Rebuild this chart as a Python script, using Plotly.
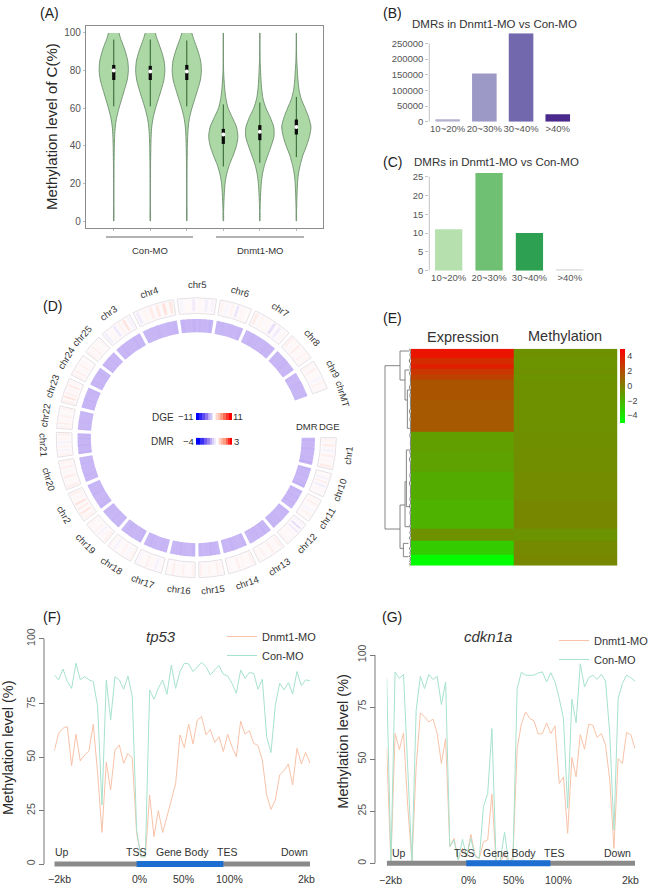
import math
import plotly.graph_objects as go

W, H = 650, 885
FONT = "Liberation Sans"
TXT = "#333333"
TICK = "#555555"

# ---------- Panel A: violin densities ----------
violin_pos = [1, 2, 3, 4, 5, 6]
con_levels = [100, 97, 94, 90, 85, 80, 75, 70, 65, 60, 55, 50, 45, 40, 30, 20, 10, 0]
dn_levels = [100, 90, 85, 80, 75, 70, 65, 60, 55, 50, 45, 40, 35, 30, 25, 20, 15, 10, 5, 0]
density_con1 = [.36, .47, .62, .80, .96, 1, .92, .74, .55, .36, .20, .10, .06, .04, .02, .012, .01, .006]
density_con2 = [.34, .46, .60, .78, .95, 1, .93, .76, .56, .36, .20, .10, .06, .04, .02, .012, .01, .006]
density_con3 = [.34, .46, .60, .78, .95, 1, .93, .75, .55, .35, .19, .10, .06, .04, .02, .012, .01, .006]
density_dn1 = [.005, .008, .01, .02, .05, .10, .18, .33, .62, .90, 1, .90, .68, .42, .23, .12, .07, .04, .02, .01]
density_dn2 = [.005, .01, .02, .05, .08, .13, .22, .42, .72, .95, .97, .78, .55, .33, .18, .10, .06, .03, .015, .008]
density_dn3 = [.005, .015, .03, .07, .11, .18, .33, .60, .85, 1, .90, .70, .45, .27, .14, .08, .05, .03, .015, .008]
whisker_lo = [61, 61, 61, 29, 31, 34]
whisker_hi = [96.5, 96.5, 96, 62, 63, 66]
iqr_lo = [75, 75, 75, 41, 43, 46]
iqr_hi = [83, 82.5, 83, 49, 51, 54]
medians = [80, 79.5, 79.5, 46, 47.5, 50]
violin_ticks = [0, 20, 40, 60, 80, 100]

# ---------- Panels B and C ----------
bin_labels = ["10~20%", "20~30%", "30~40%", ">40%"]
dmr_counts_b = [8000, 154000, 282000, 24000]
dmr_counts_c = [11, 26, 10, 0.2]
colors_b = ["#b5b2cf", "#9c99c6", "#7168ae", "#4a2a8c"]
colors_c = ["#b6e0ae", "#6fc073", "#2ea052", "#e2e2e2"]

# ---------- Panel D: circos ----------
chrom_names = ["chr1", "chr10", "chr11", "chr12", "chr13", "chr14", "chr15", "chr16", "chr17",
               "chr18", "chr19", "chr2", "chr20", "chr21", "chr22", "chr23", "chr24", "chr25",
               "chr3", "chr4", "chr5", "chr6", "chr7", "chr8", "chr9"]
chrom_sizes = [59.6, 45.4, 45.5, 49.8, 54.1, 53.5, 48.0, 55.4, 53.3, 51.0, 48.6, 59.0, 55.2,
               45.9, 42.0, 46.2, 42.2, 37.5, 62.6, 78.1, 72.5, 60.3, 74.3, 54.3, 56.5]
dge_bins = [
    [.6, 1.2, -.5, 1.0, .4, 1.3], [.3, -.6, 1.0, -.8, .5, .2], [.5, 1.1, .2, -.4, .8, .3],
    [-.5, -1.6, -1.0, .4, .3, .6], [.9, .4, 1.1, .3, .7, .5], [.8, .3, .6, 1.0, .2, .4],
    [.5, 1.0, .3, .7, .4, .9], [.7, .2, .8, .4, 1.0, .3], [.4, -.7, .5, .9, .3, -.4],
    [.6, -.3, .8, .2, -.6, .4], [.9, .4, -.5, .7, .3, .5], [.8, 1.6, 1.2, 1.8, .6, 1.0],
    [1.0, .5, 1.3, .4, .9, .6], [.7, -.5, .8, -.6, .6, .9], [.8, 1.2, .5, .9, .3, .7],
    [1.0, 2.0, 1.2, .6, 1.4, .5], [.8, 1.2, .4, 1.0, .5, .3], [.9, .4, 1.1, .5, .3, .7],
    [-.7, .4, -1.0, .8, 1.8, -.5], [-.8, .6, 1.2, 1.4, 2.0, 1.6], [-.4, .3, -.9, .4, -.7, -.5],
    [.7, -.4, .8, -1.2, .6, .3], [1.2, .6, .3, -1.4, -.8, .4], [.9, .5, 1.2, .4, .8, .6],
    [.6, .9, .3, -.4, .7, .5],
]
dmr_bins = [
    [-1.15, -1.05, -1.2, -1.05, -1.1, -1.3], [-1.2, -1.05, -1.1, -1.0, -1.1, -1.25], [-1.1, -1.0, -1.15, -1.05, -1.1, -1.0],
    [-1.1, -1.05, -1.0, -1.1, -1.05, -1.1], [-1.05, -1.15, -1.0, -1.1, -1.05, -1.0], [-1.1, -1.0, -1.05, -1.15, -1.0, -1.05],
    [-1.0, -1.1, -1.25, -1.05, -1.0, -1.1], [-1.1, -1.0, -1.05, -1.2, -1.05, -1.0], [-1.05, -1.1, -1.0, -1.05, -1.15, -1.0],
    [-1.1, -1.05, -1.0, -1.05, -1.1, -1.0], [-1.05, -1.0, -1.1, -1.0, -1.05, -1.1], [-1.1, -1.05, -1.0, -1.1, -1.05, -1.05],
    [-1.05, -1.1, -1.0, -1.05, -1.1, -1.0], [-1.2, -1.05, -1.25, -1.05, -1.2, -1.1], [-1.05, -1.0, -1.1, -1.05, -1.0, -1.05],
    [-1.1, -1.05, -1.15, -1.0, -1.05, -1.1], [-1.05, -1.1, -1.0, -1.05, -1.1, -1.0], [-1.1, -1.05, -1.0, -1.1, -1.0, -1.05],
    [-1.05, -1.1, -1.05, -1.0, -1.1, -1.05], [-1.0, -1.05, -1.1, -1.0, -1.05, -1.1], [-1.15, -1.05, -1.2, -1.1, -1.05, -1.15],
    [-1.05, -1.1, -1.0, -1.05, -1.0, -1.1], [-1.0, -1.1, -1.05, -1.0, -1.1, -1.05], [-1.05, -1.0, -1.05, -1.1, -1.0, -1.05],
    [-1.05, -1.0, -1.1, -1.05, -1.0, -1.05],
]
legend_dge = [-11, -9, -7, -5, -3, -2, -1, 0, 1, 2, 3, 5, 7, 9, 11]
legend_dmr = [-4, -3.2, -2.4, -1.8, -1.2, -.7, -.3, 0, .3, .7, 1.2, 1.6, 2.1, 2.6, 3]
dge_scale = [[0, "#0000ff"], [.27, "#8c70ee"], [.5, "#ffffff"], [.73, "#ff9c80"], [1, "#ff0000"]]
dmr_scale = [[0, "#0000ff"], [.28, "#8c70ee"], [.5714, "#ffffff"], [.8, "#ff9c80"], [1, "#ff0000"]]

# ---------- Panel E ----------
row_edges = [146, 172, 190, 207, 225, 240, 300, 395, 455, 515, 600, 685, 722, 765, 797]
expr_rows = [4.2, 3.3, 3.8, 2.9, 2.4, 1.7, 1.5, -1.2, -1.35, -1.7, -2.0, -.7, -3.0, -4.9]
meth_rows = [-.7, -.75, -.8, -.7, -.75, -.7, -.7, -.6, -.55, -.5, -.35, -.75, -.4, -.35]
dendro_x = [90, 45, 45, 90, None, 90, 90, None, 90, 118, None, 90, 105, None, 105, 105, None, 105, 118, None,
            105, 112, None, 112, 112, None, 112, 119, None, 112, 119, None,
            90, 90, None, 90, 105, None, 105, 105, None, 105, 109, None, 109, 109, None, 109, 118, None, 109, 118, None,
            105, 118, None, 90, 100, None, 100, 100, None, 100, 115, None, 100, 115]
dendro_y = [197, 197, 687, 687, None, 153, 240, None, 153, 153, None, 240, 240, None, 210, 300, None, 210, 210, None,
            300, 300, None, 270, 385, None, 270, 270, None, 385, 385, None,
            615, 745, None, 615, 615, None, 545, 680, None, 545, 545, None, 450, 620, None, 450, 450, None, 620, 620, None,
            680, 680, None, 745, 745, None, 730, 770, None, 730, 730, None, 770, 770]
fringe_x = [119, 122, 120, 122, 118, 122, 120, 122, 119, 122, 121, 122, 119, 122, 120, 122, 121, 122, 119, 122,
            120, 122, 121, 122, 120, 122, 121, 122, 120, 122, 119, 122, 121, 122, 120, 122, 119, 122, 121, 122,
            120, 122, 119, 122, 120, 122, 121, 122, 120, 122, 120, 122, 119, 122, 121, 122, 119, 122, 120, 122,
            118, 122, 120, 122, 119, 122, 120, 122, 119, 122]
fringe_rows = [146, 155, 164, 173, 182, 191, 200, 210, 220, 230, 240, 250, 262, 274, 286, 298, 310, 322, 334, 346,
               358, 370, 382, 394, 406, 418, 430, 442, 454, 466, 478, 490, 502, 514, 526, 538, 550, 562, 574, 586,
               598, 608, 618, 628, 638, 648, 658, 668, 678, 688, 698, 706, 714, 722, 730, 738, 746, 752, 758, 764,
               769, 773, 777, 780, 784, 787, 790, 793, 795, 797]

# ---------- Panels F and G ----------
f_con = [88.6, 86.3, 91.4, 85.5, 82.3, 94.1, 86.3, 87.8, 86.3, 85.5, 73.8, 27.7, 86.3, 67.5, 87.8, 86.3, 81.9, 88.1, 78.4, 15.9,
         3.4, 3.4, 81.6, 77.2, 82.3, 86.3, 79.5, 93.3, 82.3, 90.2, 94.1, 93.8, 90.2, 92.5, 94.5, 92.5, 88.6, 90.9, 93, 89,
         88.1, 84.7, 80, 90.9, 87, 89.7, 89.4, 81.9, 86.6, 59.7, 52.2, 74.5, 84.7, 81.6, 85, 79.7, 90.2, 83.6, 86.3, 85.9]
f_dn = [53.1, 61.3, 63.6, 64.4, 46.1, 60.8, 48.3, 51.1, 53, 65.5, 42.5, 14.8, 47.7, 34.7, 53.4, 55.8, 47.2, 51.9, 49.5, 14.4,
        3.4, 3.4, 32.3, 12.8, 25, 14.8, 22.2, 30, 37.8, 60.5, 54.5, 65.6, 56.3, 67.5, 69.1, 60.5, 63.1, 57, 59.7, 52.7,
        60.8, 55, 50.3, 67, 60.8, 62.5, 56.6, 55.5, 48.8, 32.3, 25.6, 30, 41.7, 43.8, 46.9, 37, 54.2, 46.9, 52.3, 47.2]
g_con = [88.7, 0, 91.9, 88.7, 90.7, 43.1, .8, 73.5, 89.8, 83.9, 90.7, 88.2, 89.8, 76.2, 87.1, 8, 11.2, 1.6, 11.5, 3.2,
         12, 3.2, 2.4, 27.2, 33.5, 64.7, 0, 1.6, 14.9, 0, 1.6, 83.9, 91.7, 90.3, 90.3, 90.3, 91.4, 91.9, 87.1, 91.5,
         87.1, 79.1, 69.5, 26.4, 78.8, 67.4, 95.8, 84.7, 89.1, 90.3, 88.3, 90.7, 87.5, 62.3, 16, 79.1, 86.3, 90.3, 89.1, 87.5]
g_dn = [55.1, 0, 62.3, 54.6, 62.6, 27.2, .8, 46.3, 72.2, 70.3, 67.9, 69.2, 62.3, 47.9, 59.9, 8, 12, 1.6, 7.2, 3.2,
        13.9, 4, 2.4, 10.4, 11.2, 33.2, 0, .8, 4.8, 0, 3.2, 55.1, 66.8, 72.7, 69.5, 68.4, 62, 62.3, 67.4, 62.3,
        66, 38.3, 41.5, 14.4, 50.8, 41.5, 61.8, 54.8, 66.8, 66.3, 60.4, 62.3, 56.7, 39.9, 7.2, 50.3, 47.9, 62.8, 61.8, 55.1]
pos_index = list(range(60))
DN_COLOR = "#f8c2a8"
CON_COLOR = "#a6e2cd"


def px_x(a, b):
    return [a / W, b / W]


def px_y(top, bottom):
    return [1 - bottom / H, 1 - top / H]


fig = go.Figure()
annots, shapes = [], []


def note(text, x, y, size=10, color=TXT, angle=0, italic=False, anchor="center"):
    annots.append(dict(text=text, x=x / W, y=1 - y / H, xref="paper", yref="paper", showarrow=False,
                       font=dict(size=size, color=color, family=FONT,
                                 style="italic" if italic else "normal"),
                       textangle=angle, xanchor=anchor, yanchor="middle"))


for label, x, y in [("(A)", 49, 13), ("(B)", 392, 13), ("(C)", 392, 162), ("(D)", 52.7, 306),
                    ("(E)", 392, 318), ("(F)", 52, 617), ("(G)", 391.7, 617)]:
    note(label, x, y, size=14, color="#222222")

# ---------- A ----------
V_SCALE = 0.4
violins = [(con_levels, density_con1), (con_levels, density_con2), (con_levels, density_con3),
           (dn_levels, density_dn1), (dn_levels, density_dn2), (dn_levels, density_dn3)]
for c, (levels, dens) in zip(violin_pos, violins):
    xs = [c - d * V_SCALE for d in dens] + [c + d * V_SCALE for d in reversed(dens)]
    ys = list(levels) + list(reversed(levels))
    fig.add_trace(go.Scatter(x=xs, y=ys, mode="lines", fill="toself", fillcolor="#abd8a4",
                             line=dict(color="#6d8f6d", width=0.9, shape="spline", smoothing=0.7),
                             hoverinfo="skip", showlegend=False, xaxis="x", yaxis="y"))
for c, lo, hi in zip(violin_pos, whisker_lo, whisker_hi):
    fig.add_trace(go.Scatter(x=[c, c], y=[lo, hi], mode="lines", line=dict(color="#2c5f2c", width=1),
                             showlegend=False, xaxis="x", yaxis="y"))
for c, lo, hi in zip(violin_pos, iqr_lo, iqr_hi):
    fig.add_trace(go.Scatter(x=[c, c], y=[lo, hi], mode="lines", line=dict(color="#0a0a0a", width=3.2),
                             showlegend=False, xaxis="x", yaxis="y"))
fig.add_trace(go.Scatter(x=violin_pos, y=medians, mode="markers",
                         marker=dict(color="white", size=4, symbol="circle"), showlegend=False,
                         xaxis="x", yaxis="y"))
note("Methylation level of C(%)", 51, 127, size=15, angle=-90, color="#2a2a2a")
note("Con-MO", 149.5, 250, size=9.5)
note("Dnmt1-MO", 260, 250, size=9.5)
for a, b in [(106, 193), (216, 304)]:
    shapes.append(dict(type="line", xref="paper", yref="paper", x0=a / W, x1=b / W, y0=1 - 237 / H, y1=1 - 237 / H,
                       line=dict(color="#666666", width=1)))

# ---------- B, C ----------
fig.add_trace(go.Bar(x=bin_labels, y=dmr_counts_b, marker=dict(color=colors_b, line=dict(width=0)), width=0.67,
                     showlegend=False, xaxis="x2", yaxis="y2"))
fig.add_trace(go.Bar(x=bin_labels, y=dmr_counts_c, marker=dict(color=colors_c, line=dict(width=0)), width=0.675,
                     showlegend=False, xaxis="x3", yaxis="y3"))
note("DMRs in Dnmt1-MO vs Con-MO", 494.5, 24, size=11.5)
note("DMRs in Dnmt1-MO vs Con-MO", 496, 162, size=11.5)
shapes.append(dict(type="line", xref="paper", yref="y2", x0=429.3 / W, x1=429.3 / W, y0=0, y1=250000,
                   line=dict(color="#c4c4c4", width=1)))
shapes.append(dict(type="line", xref="paper", yref="y3", x0=429.3 / W, x1=429.3 / W, y0=0, y1=25,
                   line=dict(color="#c4c4c4", width=1)))

# ---------- D ----------
GAP = 1.6
END = 339.4
k = (END - GAP * (len(chrom_sizes) - 1)) / sum(chrom_sizes)
theta_start = 0.0
CX, CY = 196.3, 437.7
dge_t, dge_w, dge_v, dmr_t, dmr_w, dmr_v = [], [], [], [], [], []
frame_t, frame_w = [], []
for name, size, dge, dmr in zip(chrom_names, chrom_sizes, dge_bins, dmr_bins):
    span = size * k
    frame_t.append(theta_start + span / 2)
    frame_w.append(span)
    for i, v in enumerate(dge):
        dge_t.append(theta_start + span * (i + .5) / len(dge))
        dge_w.append(span / len(dge) * 0.45)
        dge_v.append(v)
    for i, v in enumerate(dmr):
        dmr_t.append(theta_start + span * (i + .5) / len(dmr))
        dmr_w.append(span / len(dmr) * 0.5)
        dmr_v.append(v)
    mid = theta_start + span / 2
    rot = mid - 90 if mid < 180 else mid + 90
    note(name, CX + 153 * math.cos(math.radians(mid)), CY + 153 * math.sin(math.radians(mid)),
         size=9.5, angle=rot, color="#333333")
    theta_start += span + GAP
note("chrMT", CX + 153 * math.cos(math.radians(343.5)), CY + 153 * math.sin(math.radians(343.5)),
     size=9.5, angle=343.5 + 90, color="#333333")
fig.add_trace(go.Barpolar(r=[13.3] * len(frame_t), base=[105.5] * len(frame_t), theta=frame_t, width=frame_w,
                          marker=dict(color="#c8b6f5", line=dict(width=0)), showlegend=False, subplot="polar"))
fig.add_trace(go.Barpolar(r=[15.6] * len(frame_t), base=[124.4] * len(frame_t), theta=frame_t, width=frame_w,
                          marker=dict(color="#fdf9fb", line=dict(color="#e7e1e5", width=1)),
                          showlegend=False, subplot="polar"))
fig.add_trace(go.Barpolar(r=[12.0] * len(dge_t), base=[126.4] * len(dge_t), theta=dge_t, width=dge_w,
                          marker=dict(color=dge_v, colorscale=dge_scale, cmin=-11, cmax=11, line=dict(width=0),
                                      opacity=0.7),
                          showlegend=False, subplot="polar"))
fig.add_trace(go.Barpolar(r=[13.3] * len(dmr_t), base=[105.5] * len(dmr_t), theta=dmr_t, width=dmr_w,
                          marker=dict(color=dmr_v, colorscale=dmr_scale, cmin=-4, cmax=3, line=dict(width=0),
                                      opacity=0.5),
                          showlegend=False, subplot="polar"))
fig.add_trace(go.Heatmap(z=[legend_dge], x=legend_dge, colorscale=dge_scale, zmin=-11, zmax=11, showscale=False,
                         xaxis="x4", yaxis="y4"))
fig.add_trace(go.Heatmap(z=[legend_dmr], x=legend_dmr, colorscale=dmr_scale, zmin=-4, zmax=3, showscale=False,
                         xaxis="x5", yaxis="y5"))
note("DGE", 162.7, 417.3, size=10)
note("\u221211", 185, 416.7, size=9.5)
note("11", 238.3, 416.7, size=9.5)
note("DMR", 162.7, 441, size=10)
note("\u22124", 188, 441, size=9.5)
note("3", 236.7, 441, size=9.5)
note("DMR", 307.3, 426.3, size=9.5)
note("DGE", 329.3, 426.3, size=9.5)

# ---------- E ----------
z_rows = [[a, b] for a, b in zip(expr_rows, meth_rows)]
fig.add_trace(go.Heatmap(z=z_rows, x=[0, 1, 2], y=row_edges, zmin=-5, zmax=5,
                         colorscale=[[0, "#00ff00"], [1, "#ff0000"]],
                         colorbar=dict(x=620 / W, xanchor="left", y=1 - 348.7 / H, yanchor="top",
                                       lenmode="pixels", len=74, thicknessmode="pixels", thickness=5,
                                       outlinewidth=0, tickvals=[-4, -2, 0, 2, 4], ticks="", xpad=0, ypad=0,
                                       tickfont=dict(size=9, color="#444444", family=FONT)),
                         xaxis="x6", yaxis="y6"))
fig.add_trace(go.Scatter(x=dendro_x, y=dendro_y, mode="lines", line=dict(color="#777777", width=0.9),
                         showlegend=False, xaxis="x7", yaxis="y7", connectgaps=False))
fig.add_trace(go.Scatter(x=fringe_x, y=fringe_rows, mode="lines", line=dict(color="#222222", width=0.8),
                         showlegend=False, xaxis="x7", yaxis="y7"))
note("Expression", 463.3, 336.7, size=14.5)
note("Methylation", 565, 336, size=14.5)

# ---------- F, G ----------
fig.add_trace(go.Scatter(x=pos_index, y=f_dn, mode="lines", name="Dnmt1-MO", line=dict(color=DN_COLOR, width=1),
                         xaxis="x8", yaxis="y8", legend="legend"))
fig.add_trace(go.Scatter(x=pos_index, y=f_con, mode="lines", name="Con-MO", line=dict(color=CON_COLOR, width=1),
                         xaxis="x8", yaxis="y8", legend="legend"))
fig.add_trace(go.Scatter(x=[0, 59], y=[0, 0], mode="lines", line=dict(color="#8a8a8a", width=5),
                         showlegend=False, xaxis="x8", yaxis="y8"))
fig.add_trace(go.Scatter(x=[19, 39], y=[0, 0], mode="lines", line=dict(color="#1c6fd0", width=6),
                         showlegend=False, xaxis="x8", yaxis="y8"))
fig.add_trace(go.Scatter(x=pos_index, y=g_dn, mode="lines", name="Dnmt1-MO", line=dict(color=DN_COLOR, width=1),
                         xaxis="x9", yaxis="y9", legend="legend2"))
fig.add_trace(go.Scatter(x=pos_index, y=g_con, mode="lines", name="Con-MO", line=dict(color=CON_COLOR, width=1),
                         xaxis="x9", yaxis="y9", legend="legend2"))
fig.add_trace(go.Scatter(x=[0, 59], y=[0, 0], mode="lines", line=dict(color="#8a8a8a", width=5),
                         showlegend=False, xaxis="x9", yaxis="y9"))
fig.add_trace(go.Scatter(x=[18.9, 38.9], y=[0, 0], mode="lines", line=dict(color="#1c6fd0", width=6),
                         showlegend=False, xaxis="x9", yaxis="y9"))
shapes.append(dict(type="line", xref="paper", yref="y8", x0=44 / W, x1=44 / W, y0=0, y1=105.6,
                   line=dict(color="#777777", width=1)))
shapes.append(dict(type="line", xref="paper", yref="y9", x0=375 / W, x1=375 / W, y0=0, y1=100,
                   line=dict(color="#777777", width=1)))

note("tp53", 161, 636.7, size=15, italic=True)
note("cdkn1a", 488.3, 636.7, size=15, italic=True)
note("Methylation level (%)", 8, 748, size=14.5, angle=-90, color="#2a2a2a")
note("Methylation level (%)", 343, 741.7, size=14.5, angle=-90, color="#2a2a2a")
for t, x in [("Up", 61.7), ("TSS", 135.7), ("Gene Body", 182.3), ("TES", 226.7), ("Down", 294)]:
    note(t, x, 852.3, size=10.5)
for t, x in [("Up", 399), ("TSS", 464.3), ("Gene Body", 509.3), ("TES", 554.3), ("Down", 617.3)]:
    note(t, x, 853, size=10.5)
for t, x in [("\u22122kb", 59), ("0%", 139.3), ("50%", 183.3), ("100%", 229.3), ("2kb", 306.7)]:
    note(t, x, 879, size=10.5)
for t, x in [("\u22122kb", 390), ("0%", 468.3), ("50%", 513), ("100%", 558.3), ("2kb", 630)]:
    note(t, x, 879.5, size=10.5)

tick_font = dict(size=10, color=TICK, family=FONT)
hidden = dict(visible=False, showgrid=False, zeroline=False, fixedrange=True)

layout = dict(
    width=W, height=H, margin=dict(l=0, r=0, t=0, b=0, autoexpand=False), autosize=False,
    paper_bgcolor="white", plot_bgcolor="white", font=dict(family=FONT, color=TXT),
    annotations=annots, shapes=shapes, barmode="overlay",
    # A
    xaxis=dict(domain=px_x(86, 323), range=[0.24, 6.73], tickvals=violin_pos, ticktext=[""] * 6, ticks="outside",
               ticklen=2, tickcolor="#bbbbbb", showgrid=False, zeroline=False, showline=True, mirror=True,
               linecolor="#8c8c8c", linewidth=1.2, anchor="y"),
    yaxis=dict(domain=px_y(26, 228), range=[-3.7, 103.7], tickvals=violin_ticks, ticks="outside", ticklen=2,
               tickcolor="#bbbbbb", tickfont=tick_font, showgrid=False, zeroline=False, showline=True, mirror=True,
               linecolor="#8c8c8c", linewidth=1.2, anchor="x"),
    # B
    xaxis2=dict(domain=px_x(429.3, 575), range=[-0.5, 3.47], type="category", categoryarray=bin_labels,
                categoryorder="array", ticks="", tickangle=0, showline=False, showgrid=False, zeroline=False,
                anchor="y2", tickfont=dict(size=9.5, color=TICK, family=FONT)),
    yaxis2=dict(domain=px_y(33.3, 121.7), range=[0, 282000], tickvals=[0, 50000, 100000, 150000, 200000, 250000],
                tickformat="d", ticks="outside", ticklen=3, tickcolor="#c4c4c4", showline=False, showgrid=False,
                zeroline=False, tickfont=dict(size=9.5, color=TICK, family=FONT), anchor="x2"),
    # C
    xaxis3=dict(domain=px_x(429.3, 590), range=[-0.48, 3.5], type="category", categoryarray=bin_labels,
                categoryorder="array", ticks="", tickangle=0, showline=False, showgrid=False, zeroline=False,
                anchor="y3", tickfont=dict(size=9.5, color=TICK, family=FONT)),
    yaxis3=dict(domain=px_y(173, 270.7), range=[0, 26], tickvals=[0, 5, 10, 15, 20, 25], ticks="outside", ticklen=3,
                tickcolor="#c4c4c4", showline=False, showgrid=False, zeroline=False,
                tickfont=dict(size=9.5, color=TICK, family=FONT), anchor="x3"),
    # D
    polar=dict(domain=dict(x=px_x(CX - 145, CX + 145), y=px_y(CY - 145, CY + 145)), bgcolor="rgba(0,0,0,0)",
               barmode="overlay", bargap=0,
               radialaxis=dict(visible=False, range=[0, 145], showgrid=False),
               angularaxis=dict(visible=False, direction="clockwise", rotation=0, showgrid=False)),
    xaxis4=dict(domain=px_x(196, 232), anchor="y4", **hidden),
    yaxis4=dict(domain=px_y(413, 420), anchor="x4", **hidden),
    xaxis5=dict(domain=px_x(196, 232), anchor="y5", **hidden),
    yaxis5=dict(domain=px_y(437.7, 445), anchor="x5", **hidden),
    # E
    xaxis6=dict(domain=px_x(410.7, 617.3), range=[0, 2], anchor="y6", **hidden),
    yaxis6=dict(domain=px_y(348.7, 565.7), range=[797, 146], anchor="x6", **hidden),
    xaxis7=dict(domain=px_x(384, 410.7), range=[42, 122], anchor="y7", **hidden),
    yaxis7=dict(domain=px_y(348.7, 565.7), range=[797, 146], anchor="x7", **hidden),
    # F: range extends below 0 so the thick position bar is not clipped
    xaxis8=dict(domain=px_x(54.3, 310), range=[0, 59], anchor="y8", **hidden),
    yaxis8=dict(domain=px_y(638.7, 869), range=[-2.34, 105.6], tickvals=[0, 25, 50, 75, 105.6],
                ticktext=["0", "25", "50", "75", "100"], tickangle=-90, ticks="outside", ticklen=5,
                tickcolor="#777777", showline=False, showgrid=False, zeroline=False,
                tickfont=dict(size=10.5, color=TICK, family=FONT), anchor="free", position=44 / W, side="left"),
    # G
    xaxis9=dict(domain=px_x(386.7, 635), range=[0, 59], anchor="y9", **hidden),
    yaxis9=dict(domain=px_y(655, 868.3), range=[-2.4, 100], tickvals=[0, 25, 50, 75, 100], tickangle=-90,
                ticks="outside", ticklen=5, tickcolor="#777777", showline=False,
                showgrid=False, zeroline=False, tickfont=dict(size=10.5, color=TICK, family=FONT),
                anchor="free", position=375 / W, side="left"),
    legend=dict(x=222 / W, y=1 - 622 / H, xanchor="left", yanchor="top", bgcolor="rgba(0,0,0,0)", itemwidth=30,
                font=dict(size=11, color="#333333", family=FONT), tracegroupgap=0),
    legend2=dict(x=554 / W, y=1 - 626 / H, xanchor="left", yanchor="top", bgcolor="rgba(0,0,0,0)", itemwidth=30,
                 font=dict(size=11, color="#333333", family=FONT), tracegroupgap=0),
    showlegend=True,
)
fig.update_layout(**layout)
fig.write_html("out.html", config=dict(displayModeBar=False),
               post_script="document.body.style.margin='0';document.body.style.overflow='hidden';")
